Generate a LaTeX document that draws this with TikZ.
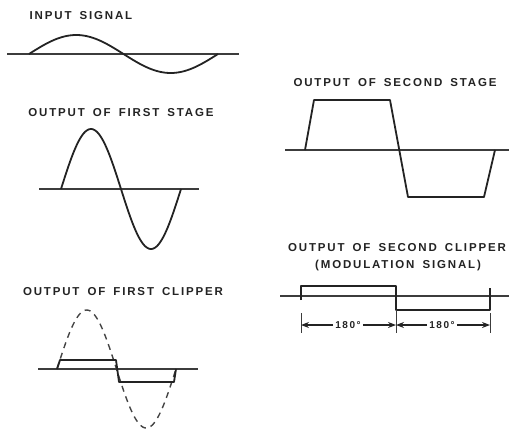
\documentclass[tikz,border=0pt]{standalone}
\usepackage{fontspec}
\newfontfamily\lettering[LetterSpace=16, WordSpace=1.6]{Liberation Sans}
\usetikzlibrary{arrows.meta}
\definecolor{inkcol}{RGB}{35,35,35}
\definecolor{axiscol}{RGB}{60,60,60}
\tikzset{
  caption/.style={font=\lettering\bfseries\fontsize{11.5}{14}\selectfont,
    text=inkcol, inner sep=0pt},
  anglelbl/.style={font=\lettering\bfseries\fontsize{10}{12}\selectfont,
    text=inkcol, inner sep=2pt},
  axisline/.style={line width=1.1pt, color=axiscol},
  wave/.style={line width=1.8pt, color=inkcol, line join=round},
  ghost/.style={line width=1.4pt, color=inkcol!85, dash pattern=on 6pt off 5pt},
  extline/.style={line width=0.9pt, color=axiscol},
  dimarr/.style={-{Stealth[length=8pt, width=6pt]}, line width=1.1pt, color=inkcol},
}

\begin{document}
\begin{tikzpicture}[x=1pt, y=-1pt]
  \useasboundingbox (0,0) rectangle (509,432);

  % Input signal
  \node[caption] (capinput) at (81,16) {INPUT SIGNAL};
  \draw[axisline] (7,54) -- (239,54);
  \draw[wave] plot[domain=29:218, samples=90] (\x,{54-19*sin((\x-29)/189*360)});

  % First stage
  \node[caption] (capstage1) at (121,113) {OUTPUT OF FIRST STAGE};
  \draw[axisline] (39,189) -- (199,189);
  \draw[wave] plot[domain=61:181, samples=90] (\x,{189-60*sin((\x-61)/120*360)});

  % First clipper
  \node[caption] (capclip1) at (123,292) {OUTPUT OF FIRST CLIPPER};
  \draw[axisline] (38,369) -- (198,369);
  \draw[ghost] plot[domain=57:176, samples=90] (\x,{369-59*sin((\x-57)/119*360)});
  \draw[wave] (57,369) -- (60,360) -- (116,360) -- (119,382) -- (174,382) -- (176,369);

  % Second stage
  \node[caption] (capstage2) at (395,83) {OUTPUT OF SECOND STAGE};
  \draw[axisline] (285,150) -- (509,150);
  \draw[wave] (305,150) -- (314,100) -- (390,100) -- (408,197) -- (484,197) -- (495,150);

  % Second clipper
  \node[caption] (capclip2) at (397,248) {OUTPUT OF SECOND CLIPPER};
  \node[caption] (capmod) at (398,266) {(MODULATION SIGNAL)};
  \draw[axisline] (280,296) -- (509,296);
  \draw[wave] (301,300) -- (301,286) -- (396,286) -- (396,310) -- (490,310) -- (490,288);

  % 180 degree marks
  \draw[extline] (301,313) -- (301,333);
  \draw[extline] (396,310) -- (396,333);
  \draw[extline] (490,313) -- (490,333);
  \coordinate (tickA) at (301,325);
  \coordinate (tickB) at (396,325);
  \coordinate (tickC) at (490,325);
  \node[anglelbl] (halfA) at (348,325) {180°};
  \node[anglelbl] (halfB) at (442,325) {180°};
  \draw[dimarr] (halfA.west) -- (tickA);
  \draw[dimarr] (halfA.east) -- (tickB);
  \draw[dimarr] (halfB.west) -- (tickB);
  \draw[dimarr] (halfB.east) -- (tickC);

\end{tikzpicture}
\end{document}
